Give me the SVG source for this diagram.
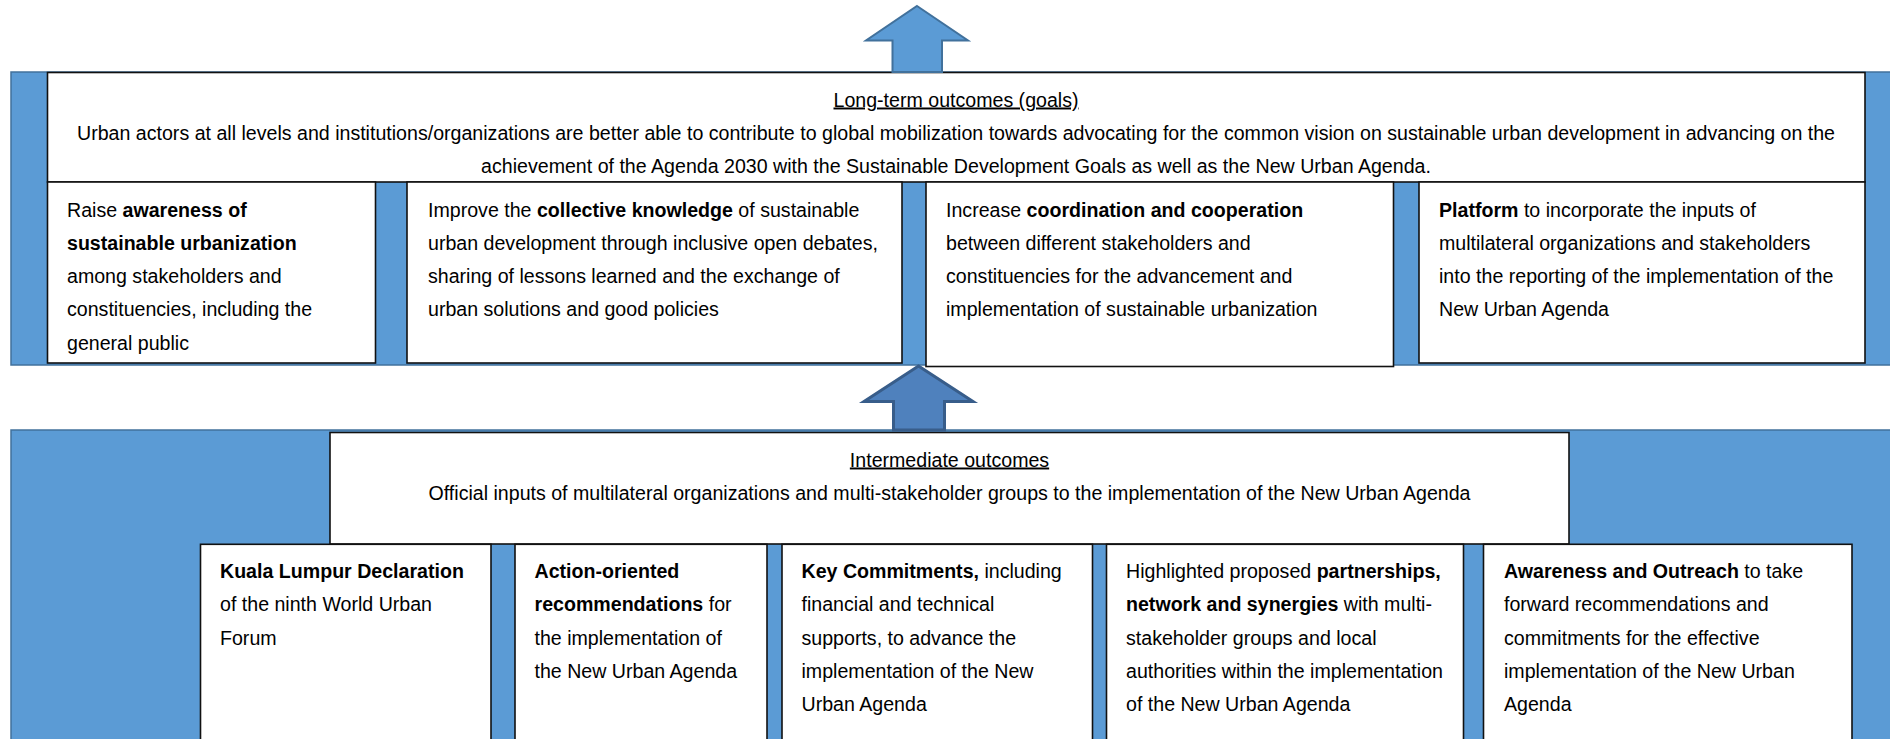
<svg xmlns="http://www.w3.org/2000/svg" width="1890" height="739" viewBox="0 0 1890 739">
<style>
.panel{fill:#5b9bd5;stroke:#41719c;stroke-width:1.5}
.box{fill:#ffffff;stroke:#111111;stroke-width:1.6}
text{font-family:"Liberation Sans",Arial,sans-serif;font-size:19.6px;fill:#000000}
.c{text-anchor:middle}
.b{font-weight:bold}
.u{text-decoration:underline}
.arr1{fill:#5b9bd5;stroke:#41719c;stroke-width:2}
.arr2{fill:#4f81bd;stroke:#385d8a;stroke-width:3}
</style>
<rect width="1890" height="739" fill="#ffffff"/>

<g id="long-term-panel">
<rect class="panel" x="11" y="72" width="1885" height="293"/>
</g>
<g id="long-term-goals">
<rect class="box" x="47.5" y="72.5" width="1817.5" height="109.5"/>
<text class="c u" x="956" y="106.5">Long-term outcomes (goals)</text>
<text class="c" x="956" y="139.5">Urban actors at all levels and institutions/organizations are better able to contribute to global mobilization towards advocating for the common vision on sustainable urban development in advancing on the</text>
<text class="c" x="956" y="172.5">achievement of the Agenda 2030 with the Sustainable Development Goals as well as the New Urban Agenda.</text>
</g>
<g id="lt-awareness">
<rect class="box" x="47.5" y="182" width="328" height="181"/>
<text x="67" y="216.5">Raise <tspan class="b">awareness of</tspan></text>
<text x="67" y="249.8" class="b">sustainable urbanization</text>
<text x="67" y="283.1">among stakeholders and</text>
<text x="67" y="316.4">constituencies, including the</text>
<text x="67" y="349.7">general public</text>
</g>
<g id="lt-knowledge">
<rect class="box" x="407" y="182" width="495" height="181"/>
<text x="428" y="216.5">Improve the <tspan class="b">collective knowledge</tspan> of sustainable</text>
<text x="428" y="249.8">urban development through inclusive open debates,</text>
<text x="428" y="283.1">sharing of lessons learned and the exchange of</text>
<text x="428" y="316.4">urban solutions and good policies</text>
</g>
<g id="lt-coordination">
<rect class="box" x="926" y="182" width="467.5" height="184.5"/>
<text x="946" y="216.5">Increase <tspan class="b">coordination and cooperation</tspan></text>
<text x="946" y="249.8">between different stakeholders and</text>
<text x="946" y="283.1">constituencies for the advancement and</text>
<text x="946" y="316.4">implementation of sustainable urbanization</text>
</g>
<g id="lt-platform">
<rect class="box" x="1419" y="182" width="446" height="181"/>
<text x="1439" y="216.5"><tspan class="b">Platform</tspan> to incorporate the inputs of</text>
<text x="1439" y="249.8">multilateral organizations and stakeholders</text>
<text x="1439" y="283.1">into the reporting of the implementation of the</text>
<text x="1439" y="316.4">New Urban Agenda</text>
</g>

<g id="intermediate-panel">
<rect class="panel" x="11" y="430" width="1885" height="315"/>
</g>
<g id="intermediate-outcomes">
<rect class="box" x="330" y="432.5" width="1239" height="111.5"/>
<text class="c u" x="949.5" y="466.5">Intermediate outcomes</text>
<text class="c" x="949.5" y="500">Official inputs of multilateral organizations and multi-stakeholder groups to the implementation of the New Urban Agenda</text>
</g>
<g id="io-declaration">
<rect class="box" x="200.5" y="544.3" width="290.5" height="205"/>
<text x="220" y="578" class="b">Kuala Lumpur Declaration</text>
<text x="220" y="611.3">of the ninth World Urban</text>
<text x="220" y="644.6">Forum</text>
</g>
<g id="io-recommendations">
<rect class="box" x="515" y="544.3" width="252" height="205"/>
<text x="534.5" y="578" class="b">Action-oriented</text>
<text x="534.5" y="611.3"><tspan class="b">recommendations</tspan> for</text>
<text x="534.5" y="644.6">the implementation of</text>
<text x="534.5" y="677.9">the New Urban Agenda</text>
</g>
<g id="io-commitments">
<rect class="box" x="782" y="544.3" width="310.5" height="205"/>
<text x="801.5" y="578"><tspan class="b">Key Commitments,</tspan> including</text>
<text x="801.5" y="611.3">financial and technical</text>
<text x="801.5" y="644.6">supports, to advance the</text>
<text x="801.5" y="677.9">implementation of the New</text>
<text x="801.5" y="711.2">Urban Agenda</text>
</g>
<g id="io-partnerships">
<rect class="box" x="1106.5" y="544.3" width="357" height="205"/>
<text x="1126" y="578">Highlighted proposed <tspan class="b">partnerships,</tspan></text>
<text x="1126" y="611.3"><tspan class="b">network and synergies</tspan> with multi-</text>
<text x="1126" y="644.6">stakeholder groups and local</text>
<text x="1126" y="677.9">authorities within the implementation</text>
<text x="1126" y="711.2">of the New Urban Agenda</text>
</g>
<g id="io-outreach">
<rect class="box" x="1483.5" y="544.3" width="368.5" height="205"/>
<text x="1504" y="578"><tspan class="b">Awareness and Outreach</tspan> to take</text>
<text x="1504" y="611.3">forward recommendations and</text>
<text x="1504" y="644.6">commitments for the effective</text>
<text x="1504" y="677.9">implementation of the New Urban</text>
<text x="1504" y="711.2">Agenda</text>
</g>

<g id="connectors">
<path class="arr1" d="M917,6 L968,40.5 L942,40.5 L942,72 L892.5,72 L892.5,40.5 L866,40.5 Z"/>
<path class="arr2" d="M918.5,366 L973,401.5 L944.5,401.5 L944.5,430 L893.5,430 L893.5,401.5 L864,401.5 Z"/>
</g>
</svg>
